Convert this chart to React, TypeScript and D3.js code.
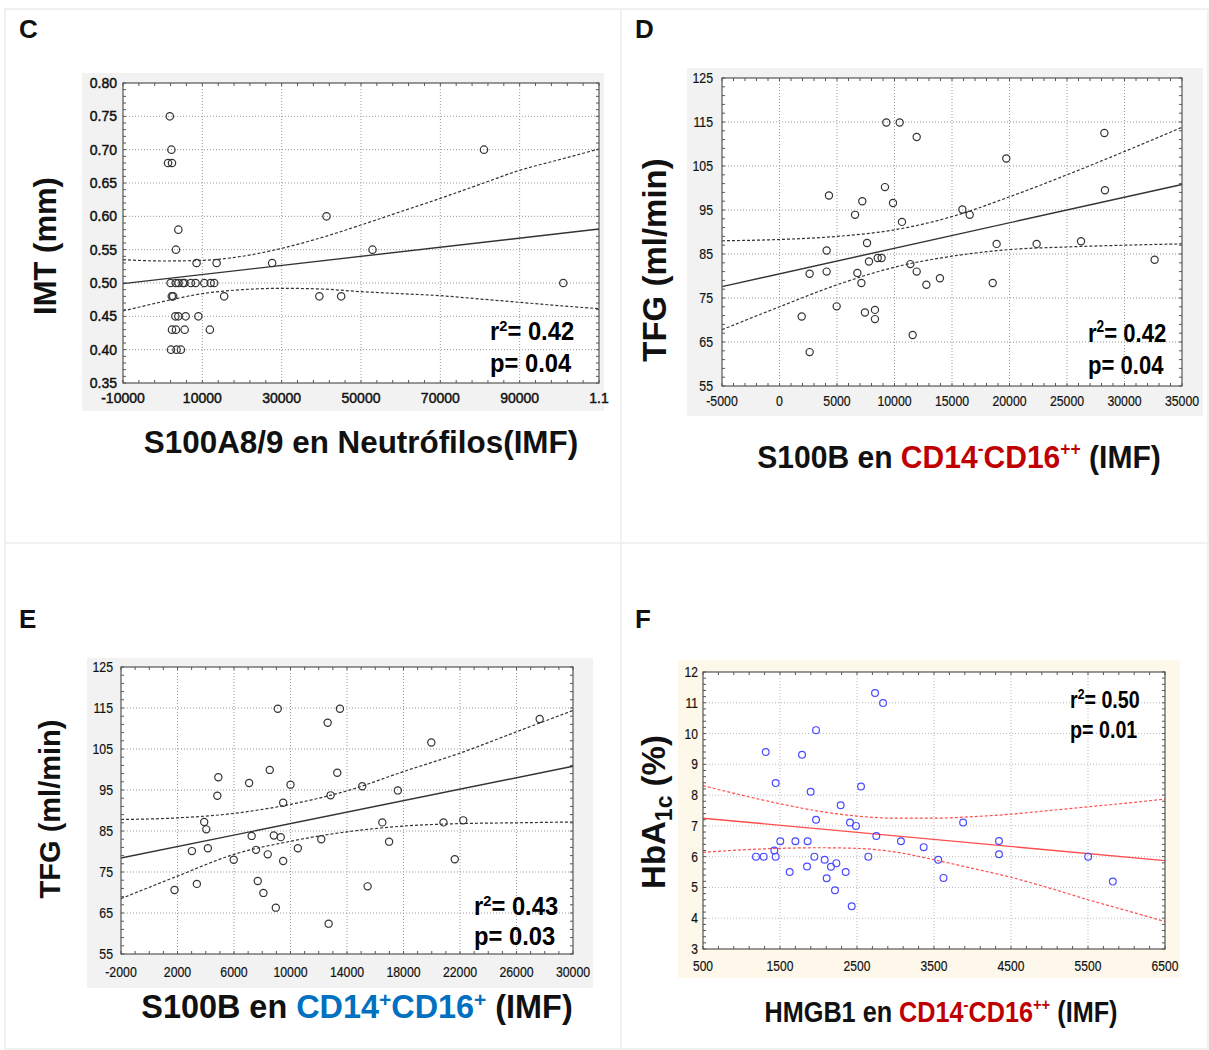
import * as d3 from 'd3';

// ---------- Panel C : IMT vs S100A8/9 ----------
const cPtsX = [1800, 2200, 1350, 2350, 3950, 3350, 8550, 13600, 27600, 41300, 52900, 81000, 101000,
  2000, 3300, 4000, 5100, 5500, 7100, 8300, 10500, 12100, 13000,
  2300, 2650, 15500, 39500, 45000,
  3200, 3950, 5800, 9000,
  2350, 3350, 5550, 11900,
  2100, 3500, 4600];
const cPtsY = [0.75, 0.70, 0.68, 0.68, 0.58, 0.55, 0.53, 0.53, 0.53, 0.60, 0.55, 0.70, 0.50,
  0.50, 0.50, 0.50, 0.50, 0.50, 0.50, 0.50, 0.50, 0.50, 0.50,
  0.48, 0.48, 0.48, 0.48, 0.48,
  0.45, 0.45, 0.45, 0.45,
  0.43, 0.43, 0.43, 0.43,
  0.40, 0.40, 0.40];
const cFitX = [-10000, 110000];
const cFitY = [0.499, 0.581];
const cBandX = [-10000, 0, 10000, 20000, 30000, 40000, 50000, 60000, 70000, 80000, 90000, 100000, 110000];
const cBandUp = [0.535, 0.533, 0.534, 0.540, 0.552, 0.568, 0.587, 0.607, 0.627, 0.648, 0.669, 0.685, 0.701];
const cBandLo = [0.458, 0.472, 0.484, 0.490, 0.492, 0.491, 0.487, 0.484, 0.481, 0.476, 0.471, 0.466, 0.4615];
const cXTicks = [-10000, 10000, 30000, 50000, 70000, 90000, 110000];
const cXLabels = ['-10000', '10000', '30000', '50000', '70000', '90000', '1.1'];
const cYTicks = [0.35, 0.40, 0.45, 0.50, 0.55, 0.60, 0.65, 0.70, 0.75, 0.80];
const cYLabels = ['0.35', '0.40', '0.45', '0.50', '0.55', '0.60', '0.65', '0.70', '0.75', '0.80'];

// ---------- Panel D : TFG vs S100B CD14-CD16++ ----------
const dPtsX = [1930, 2620, 2620, 4100, 4100, 4300, 4970, 6570, 6770, 7120, 7200, 7430, 7610, 7780,
  8300, 8300, 8540, 8880, 9170, 9290, 9870, 10450, 10650, 11380, 11580, 11930, 11930, 12770, 13950,
  15900, 16540, 18540, 18880, 19720, 22360, 26220, 28250, 28300, 32620];
const dPtsY = [70.8, 62.7, 80.5, 85.8, 81.0, 98.3, 73.1, 93.9, 80.7, 78.4, 97.0, 71.7, 87.5, 83.3,
  72.3, 70.2, 84.1, 84.1, 100.2, 114.9, 96.6, 114.9, 92.3, 82.7, 66.6, 81.0, 111.6, 78.0, 79.5,
  95.1, 93.9, 78.4, 87.3, 106.7, 87.3, 87.9, 112.5, 99.5, 83.7];
const dFitX = [-5000, 35000];
const dFitY = [77.6, 100.8];
const dBandX = [-5000, 0, 5000, 10000, 15000, 20000, 25000, 30000, 35000];
const dBandUp = [88.0, 88.3, 89.0, 90.5, 93.5, 98.0, 103.0, 108.3, 113.8];
const dBandLo = [67.8, 73.0, 78.0, 82.0, 84.5, 86.0, 86.6, 87.0, 87.3];
const dXTicks = [-5000, 0, 5000, 10000, 15000, 20000, 25000, 30000, 35000];
const dXLabels = ['-5000', '0', '5000', '10000', '15000', '20000', '25000', '30000', '35000'];
const tfgYTicks = [55, 65, 75, 85, 95, 105, 115, 125];
const tfgYLabels = ['55', '65', '75', '85', '95', '105', '115', '125'];

// ---------- Panel E : TFG vs S100B CD14+CD16+ ----------
const ePtsX = [1790, 3020, 3370, 3890, 4040, 4150, 4820, 4890, 5980, 7070, 7250, 7560, 7680, 8080,
  8390, 8530, 8820, 8960, 9100, 9310, 9480, 9480, 10000, 10520, 12180, 12630, 12700, 12840, 13310, 13500,
  15080, 15460, 16500, 16980, 17600, 19970, 20830, 21630, 22230, 27640];
const ePtsY = [70.6, 80.1, 72.1, 87.2, 85.4, 80.8, 93.6, 98.1, 78.0, 96.7, 83.8, 80.4, 72.8, 69.9,
  79.3, 99.9, 83.9, 66.3, 114.8, 83.5, 91.9, 77.7, 96.3, 80.8, 83.0, 111.4, 62.4, 93.7, 99.2, 114.8,
  95.9, 71.5, 87.1, 82.4, 94.9, 106.6, 87.1, 78.1, 87.6, 112.3];
const eFitX = [-2000, 30000];
const eFitY = [78.4, 100.8];
const eBandX = [-2000, 2000, 6000, 10000, 14000, 18000, 22000, 26000, 30000];
const eBandUp = [87.8, 88.2, 89.3, 91.5, 94.8, 99.5, 104.0, 109.2, 114.4];
const eBandLo = [68.5, 74.0, 79.3, 82.5, 84.8, 86.2, 86.8, 87.0, 87.2];
const eXTicks = [-2000, 2000, 6000, 10000, 14000, 18000, 22000, 26000, 30000];
const eXLabels = ['-2000', '2000', '6000', '10000', '14000', '18000', '22000', '26000', '30000'];

// ---------- Panel F : HbA1c vs HMGB1 ----------
const fPtsX = [1188, 1288, 1314, 1426, 1444, 1444, 1504, 1626, 1700, 1786, 1851, 1859, 1898, 1946,
  1968, 1968, 2080, 2106, 2162, 2214, 2232, 2288, 2353, 2409, 2431, 2487, 2552, 2647, 2734, 2751,
  2838, 3071, 3366, 3555, 3623, 3878, 4344, 4344, 5502, 5822];
const fPtsY = [6.0, 6.0, 9.4, 6.2, 6.0, 8.39, 6.5, 5.5, 6.5, 9.31, 5.68, 6.5, 8.11, 6.0,
  10.11, 7.2, 5.9, 5.3, 5.67, 4.91, 5.79, 7.67, 5.5, 7.11, 4.39, 7.0, 8.28, 6.0, 11.32, 6.67,
  10.99, 6.5, 6.31, 5.9, 5.31, 7.11, 6.51, 6.08, 6.0, 5.19];
const fFitX = [500, 6500];
const fFitY = [7.25, 5.87];
const fBandX = [500, 1000, 1500, 2000, 2500, 3000, 3500, 4000, 4500, 5000, 5500, 6000, 6500];
const fBandUp = [8.31, 8.0, 7.72, 7.48, 7.32, 7.25, 7.25, 7.3, 7.38, 7.5, 7.62, 7.74, 7.87];
const fBandLo = [6.14, 6.22, 6.27, 6.29, 6.27, 6.15, 5.9, 5.62, 5.33, 4.98, 4.6, 4.25, 3.89];
const fXTicks = [500, 1500, 2500, 3500, 4500, 5500, 6500];
const fXLabels = ['500', '1500', '2500', '3500', '4500', '5500', '6500'];
const fYTicks = [3, 4, 5, 6, 7, 8, 9, 10, 11, 12];
const fYLabels = ['3', '4', '5', '6', '7', '8', '9', '10', '11', '12'];

const FONT = '"Liberation Sans", Arial, Helvetica, sans-serif';

type Frame = { x0: number; x1: number; y0: number; y1: number };

type PanelProps = {
  frame: Frame;
  bg: Frame;
  bgColor: string;
  xDomain: [number, number];
  yDomain: [number, number];
  xTicks: number[];
  xLabels: string[];
  yTicks: number[];
  yLabels: string[];
  minorX: number;
  minorY: number;
  px: number[];
  py: number[];
  fitX: number[];
  fitY: number[];
  bandX: number[];
  bandUp: number[];
  bandLo: number[];
  pointColor: string;
  lineColor: string;
  gridColor: string;
  tickSize: number;
  tickScale: number;
  tickHeavy: number;
  xLabelDy: number;
  yLabelDx: number;
  r: number;
};

const Narrow = ({ x, y, s, anchor = 'start', size, weight = 'normal', fill = '#111', heavy = 0, children }: any) => (
  <text
    transform={`translate(${x},${y}) scale(${s},1)`}
    textAnchor={anchor}
    fontSize={size}
    fontWeight={weight}
    fill={fill}
    stroke={heavy ? fill : 'none'}
    strokeWidth={heavy}
    fontFamily={FONT}
  >
    {children}
  </text>
);

const Panel = (p: PanelProps) => {
  const { frame } = p;
  const x = d3.scaleLinear().domain(p.xDomain).range([frame.x0, frame.x1]);
  const y = d3.scaleLinear().domain(p.yDomain).range([frame.y1, frame.y0]);

  const minorXs = d3.range(p.xDomain[0], p.xDomain[1] + p.minorX / 2, p.minorX);
  const minorYs = d3.range(p.yDomain[0], p.yDomain[1] + p.minorY / 2, p.minorY);

  const line = d3
    .line<[number, number]>()
    .x(d => x(d[0]))
    .y(d => y(d[1]))
    .curve(d3.curveMonotoneX);

  const fit = line(p.fitX.map((v, i) => [v, p.fitY[i]] as [number, number])) || '';
  const up = line(p.bandX.map((v, i) => [v, p.bandUp[i]] as [number, number])) || '';
  const lo = line(p.bandX.map((v, i) => [v, p.bandLo[i]] as [number, number])) || '';

  const innerX = p.xTicks.filter(t => t > p.xDomain[0] && t < p.xDomain[1]);
  const innerY = p.yTicks.filter(t => t > p.yDomain[0] && t < p.yDomain[1]);

  return (
    <g>
      <rect x={p.bg.x0} y={p.bg.y0} width={p.bg.x1 - p.bg.x0} height={p.bg.y1 - p.bg.y0} fill={p.bgColor} />
      <rect x={frame.x0} y={frame.y0} width={frame.x1 - frame.x0} height={frame.y1 - frame.y0} fill="#fff" />

      {/* grid */}
      {innerX.map(t => (
        <line key={'gx' + t} x1={x(t)} x2={x(t)} y1={frame.y0} y2={frame.y1}
          stroke={p.gridColor} strokeWidth={1} strokeDasharray="1,2" />
      ))}
      {innerY.map(t => (
        <line key={'gy' + t} x1={frame.x0} x2={frame.x1} y1={y(t)} y2={y(t)}
          stroke={p.gridColor} strokeWidth={1} strokeDasharray="1,2" />
      ))}

      {/* minor ticks, inward on all sides */}
      {minorXs.map((t, i) => (
        <g key={'mx' + i} stroke="#555" strokeWidth={1}>
          <line x1={x(t)} x2={x(t)} y1={frame.y1} y2={frame.y1 - 3} />
          <line x1={x(t)} x2={x(t)} y1={frame.y0} y2={frame.y0 + 3} />
        </g>
      ))}
      {minorYs.map((t, i) => (
        <g key={'my' + i} stroke="#555" strokeWidth={1}>
          <line x1={frame.x0} x2={frame.x0 + 3} y1={y(t)} y2={y(t)} />
          <line x1={frame.x1} x2={frame.x1 - 3} y1={y(t)} y2={y(t)} />
        </g>
      ))}

      {/* confidence band and fit */}
      <path d={up} fill="none" stroke={p.lineColor} strokeWidth={1.2} strokeDasharray="3,2" />
      <path d={lo} fill="none" stroke={p.lineColor} strokeWidth={1.2} strokeDasharray="3,2" />
      <path d={fit} fill="none" stroke={p.lineColor} strokeWidth={1.4} />

      {/* points */}
      {p.px.map((v, i) => (
        <circle key={'p' + i} cx={x(v)} cy={y(p.py[i])} r={p.r} fill="none"
          stroke={p.pointColor} strokeWidth={1.2} />
      ))}

      <rect x={frame.x0} y={frame.y0} width={frame.x1 - frame.x0} height={frame.y1 - frame.y0}
        fill="none" stroke="#555" strokeWidth={1.2} />

      {/* tick labels */}
      {p.xTicks.map((t, i) => (
        <Narrow key={'xl' + i} x={x(t)} y={frame.y1 + p.xLabelDy} s={p.tickScale} anchor="middle"
          size={p.tickSize} fill="#111" heavy={p.tickHeavy}>
          {p.xLabels[i]}
        </Narrow>
      ))}
      {p.yTicks.map((t, i) => (
        <Narrow key={'yl' + i} x={frame.x0 - p.yLabelDx} y={y(t) + p.tickSize * 0.36} s={p.tickScale}
          anchor="end" size={p.tickSize} fill="#111" heavy={p.tickHeavy}>
          {p.yLabels[i]}
        </Narrow>
      ))}
    </g>
  );
};

const Stat = ({ x, y, r2, pv, size, s, gap }: any) => (
  <g>
    <Narrow x={x} y={y} s={s} size={size} weight="bold" fill="#000">
      r<tspan fontSize={size * 0.62} dy={-size * 0.38}>2</tspan>
      <tspan dy={size * 0.38}>{'= ' + r2}</tspan>
    </Narrow>
    <Narrow x={x} y={y + gap} s={s} size={size} weight="bold" fill="#000">
      {'p= ' + pv}
    </Narrow>
  </g>
);

const RED = '#c00000';
const BLUE = '#0070c0';

export default function App() {
  return (
    <div style={{ position: 'absolute', left: 0, top: 0 }}>
      <svg width={1209} height={1050} style={{ display: 'block', background: '#fff' }}>
        {/* cell borders */}
        <g fill="none" stroke="#ececec" strokeWidth={1.5}>
          <rect x={5} y={9} width={1203} height={1040} />
          <line x1={621} x2={621} y1={9} y2={1050} />
          <line x1={5} x2={1209} y1={543} y2={543} />
        </g>

        {/* panel letters */}
        <g fontFamily={FONT} fontWeight="bold" fontSize={26} fill="#111">
          <text x={19} y={38}>C</text>
          <text x={635} y={38}>D</text>
          <text x={19} y={628}>E</text>
          <text x={635} y={628}>F</text>
        </g>

        {/* ---- C ---- */}
        <Panel
          frame={{ x0: 123, x1: 599, y0: 83, y1: 383 }}
          bg={{ x0: 82, x1: 604, y0: 73, y1: 411 }}
          bgColor="#f2f2f2"
          xDomain={[-10000, 110000]} yDomain={[0.35, 0.80]}
          xTicks={cXTicks} xLabels={cXLabels} yTicks={cYTicks} yLabels={cYLabels}
          minorX={4000} minorY={0.01}
          px={cPtsX} py={cPtsY} fitX={cFitX} fitY={cFitY}
          bandX={cBandX} bandUp={cBandUp} bandLo={cBandLo}
          pointColor="#333" lineColor="#333" gridColor="#999"
          tickSize={14} tickScale={1} tickHeavy={0.45} xLabelDy={20} yLabelDx={6} r={3.7}
        />
        <Stat x={490} y={340} r2="0.42" pv="0.04" size={25} s={0.95} gap={32} />
        <text transform="translate(56,246) rotate(-90)" textAnchor="middle" fontFamily={FONT}
          fontWeight="bold" fontSize={31} fill="#111">IMT (mm)</text>
        <text x={361} y={453} textAnchor="middle" fontFamily={FONT} fontWeight="bold" fontSize={31.4} fill="#111">
          S100A8/9 en Neutrófilos(IMF)
        </text>

        {/* ---- D ---- */}
        <Panel
          frame={{ x0: 722, x1: 1182, y0: 78, y1: 386 }}
          bg={{ x0: 687, x1: 1203, y0: 68, y1: 416 }}
          bgColor="#f2f2f2"
          xDomain={[-5000, 35000]} yDomain={[55, 125]}
          xTicks={dXTicks} xLabels={dXLabels} yTicks={tfgYTicks} yLabels={tfgYLabels}
          minorX={1000} minorY={2}
          px={dPtsX} py={dPtsY} fitX={dFitX} fitY={dFitY}
          bandX={dBandX} bandUp={dBandUp} bandLo={dBandLo}
          pointColor="#333" lineColor="#333" gridColor="#999"
          tickSize={14} tickScale={0.88} tickHeavy={0.2} xLabelDy={20} yLabelDx={9} r={3.6}
        />
        <Stat x={1088} y={342} r2="0.42" pv="0.04" size={26} s={0.85} gap={32} />
        <text transform="translate(666,260) rotate(-90)" textAnchor="middle" fontFamily={FONT}
          fontWeight="bold" fontSize={33} fill="#111">TFG (ml/min)</text>
        <Narrow x={959} y={468} s={0.97} anchor="middle" size={31} weight="bold" fill="#111">
          {'S100B en '}
          <tspan fill={RED}>CD14</tspan>
          <tspan fill={RED} fontSize={18} dy={-13}>-</tspan>
          <tspan fill={RED} dy={13}>CD16</tspan>
          <tspan fill={RED} fontSize={18} dy={-13}>++</tspan>
          <tspan dy={13}>{' (IMF)'}</tspan>
        </Narrow>

        {/* ---- E ---- */}
        <Panel
          frame={{ x0: 121, x1: 573, y0: 667, y1: 954 }}
          bg={{ x0: 87, x1: 593, y0: 658, y1: 988 }}
          bgColor="#f2f2f2"
          xDomain={[-2000, 30000]} yDomain={[55, 125]}
          xTicks={eXTicks} xLabels={eXLabels} yTicks={tfgYTicks} yLabels={tfgYLabels}
          minorX={1000} minorY={2}
          px={ePtsX} py={ePtsY} fitX={eFitX} fitY={eFitY}
          bandX={eBandX} bandUp={eBandUp} bandLo={eBandLo}
          pointColor="#333" lineColor="#333" gridColor="#999"
          tickSize={14} tickScale={0.88} tickHeavy={0.2} xLabelDy={23} yLabelDx={8} r={3.6}
        />
        <Stat x={474} y={915} r2="0.43" pv="0.03" size={25} s={0.95} gap={30} />
        <text transform="translate(60,809) rotate(-90)" textAnchor="middle" fontFamily={FONT}
          fontWeight="bold" fontSize={29} fill="#111">TFG (ml/min)</text>
        <text x={357} y={1018} textAnchor="middle" fontFamily={FONT} fontWeight="bold" fontSize={32.4} fill="#111">
          {'S100B en '}
          <tspan fill={BLUE}>CD14</tspan>
          <tspan fill={BLUE} fontSize={21} dy={-11}>+</tspan>
          <tspan fill={BLUE} dy={11}>CD16</tspan>
          <tspan fill={BLUE} fontSize={21} dy={-11}>+</tspan>
          <tspan dy={11}>{' (IMF)'}</tspan>
        </text>

        {/* ---- F ---- */}
        <Panel
          frame={{ x0: 703, x1: 1165, y0: 672, y1: 949 }}
          bg={{ x0: 678, x1: 1180, y0: 660, y1: 978 }}
          bgColor="#fdf8ea"
          xDomain={[500, 6500]} yDomain={[3, 12]}
          xTicks={fXTicks} xLabels={fXLabels} yTicks={fYTicks} yLabels={fYLabels}
          minorX={200} minorY={0.2}
          px={fPtsX} py={fPtsY} fitX={fFitX} fitY={fFitY}
          bandX={fBandX} bandUp={fBandUp} bandLo={fBandLo}
          pointColor="#4a4aff" lineColor="#ff4d4d" gridColor="#bbb"
          tickSize={14} tickScale={0.86} tickHeavy={0.2} xLabelDy={22} yLabelDx={5} r={3.4}
        />
        <Stat x={1070} y={708} r2="0.50" pv="0.01" size={24} s={0.82} gap={30} />
        <text transform="translate(665,812) rotate(-90)" textAnchor="middle" fontFamily={FONT}
          fontWeight="bold" fontSize={33} fill="#111">
          HbA<tspan fontSize={23} dy={7}>1c</tspan><tspan dy={-7}>{'   (%)'}</tspan>
        </text>
        <Narrow x={941} y={1022} s={0.87} anchor="middle" size={29} weight="bold" fill="#111">
          {'HMGB1 en '}
          <tspan fill={RED}>CD14</tspan>
          <tspan fill={RED} fontSize={17} dy={-12}>-</tspan>
          <tspan fill={RED} dy={12}>CD16</tspan>
          <tspan fill={RED} fontSize={17} dy={-12}>++</tspan>
          <tspan dy={12}>{' (IMF)'}</tspan>
        </Narrow>
      </svg>
    </div>
  );
}
